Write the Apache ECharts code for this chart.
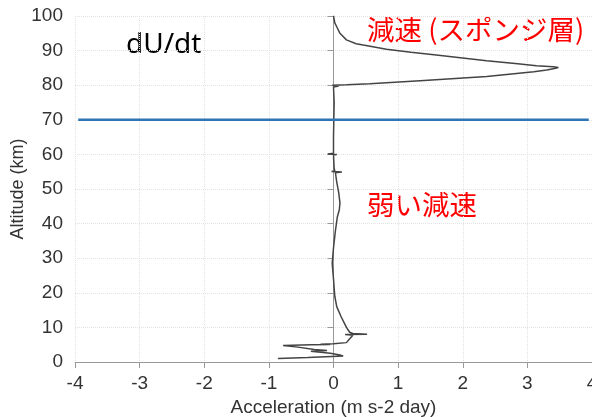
<!DOCTYPE html>
<html>
<head>
<meta charset="utf-8">
<script src="https://cdn.jsdelivr.net/npm/echarts@6/dist/echarts.min.js"></script>
<style>
html,body{margin:0;padding:0;background:#fff;}
#chart{width:592px;height:417px;}
</style>
</head>
<body>
<div id="chart"></div>
<script>
// Altitude (km) and acceleration dU/dt (m s-2 day)
var altitudes = [100, 98, 96.9, 95, 93.1, 92, 91.6, 90.4, 89.5, 88.7, 87.1, 86.2, 85.6, 85.3, 85.1, 84.8, 84.4, 83.9, 82.5, 81.3, 80.4, 80.1, 80.0, 79.8, 79.5, 79, 75, 70, 65, 61, 60.3, 60.15, 60.0, 59.8, 56, 55.2, 55.05, 54.9, 54.7, 52, 49, 46, 44, 42, 38, 33, 28.5, 24, 19, 16, 13, 10, 8.6, 8.25, 8.05, 7.95, 7.75, 7.2, 6.5, 5.6, 5.3, 5.15, 5.05, 4.95, 4.8, 4.3, 3.6, 3.3, 3.1, 2.8, 2.5, 2.0, 1.7, 1.3, 1.0];
var accel = [0.0, 0.02, 0.05, 0.1, 0.2, 0.35, 0.46, 0.82, 1.2, 1.59, 2.37, 2.85, 3.14, 3.40, 3.48, 3.42, 3.3, 3.1, 2.37, 1.34, 0.56, 0.2, -0.02, 0.08, 0.0, 0.02, 0.01, 0.005, 0.0, 0.0, 0.0, -0.09, 0.05, 0.0, 0.01, 0.02, -0.03, 0.13, 0.03, 0.05, 0.08, 0.1, 0.09, 0.06, 0.03, 0.0, -0.02, 0.0, 0.02, 0.05, 0.12, 0.2, 0.25, 0.3, 0.52, 0.18, 0.3, 0.27, 0.24, 0.2, 0.0, -0.2, -0.05, -0.35, -0.78, -0.55, -0.3, -0.1, -0.35, -0.2, -0.05, 0.1, 0.15, -0.4, -0.86];
var refAltitude = 70;
var refSpan = [-3.95, 3.95];
var xTicks = [-4, -3, -2, -1, 0, 1, 2, 3, 4];
var yTicks = [0, 10, 20, 30, 40, 50, 60, 70, 80, 90, 100];
var xTitle = 'Acceleration (m s-2 day)';
var yTitle = 'Altitude (km)';
var labelMain = 'dU/dt';
var labelSponge = '減速 (スポンジ層)';
var labelWeak = '弱い減速';

var profile = altitudes.map(function (a, i) { return [accel[i], a]; });
var refLine = refSpan.map(function (x) { return [x, refAltitude]; });

var chart = echarts.init(document.getElementById('chart'), null, {renderer: 'canvas'});
var font = '"Liberation Sans", Arial, sans-serif';
chart.setOption({
  animation: false,
  backgroundColor: '#ffffff',
  grid: {left: 75, right: 0, top: 16, bottom: 55, containLabel: false, outerBoundsMode: 'none'},
  xAxis: {
    type: 'value', min: xTicks[0], max: xTicks[xTicks.length - 1], interval: 1,
    name: xTitle, nameLocation: 'middle', nameGap: 36, nameMoveOverlap: false,
    nameTextStyle: {fontFamily: font, fontSize: 19, color: '#333'},
    axisLine: {show: true, lineStyle: {color: '#999', width: 1}},
    axisTick: {show: true, length: 6, lineStyle: {color: '#999'}},
    axisLabel: {fontFamily: font, fontSize: 19, color: '#333', margin: 12, showMaxLabel: true, showMinLabel: true},
    splitLine: {show: true, lineStyle: {color: '#e2e2e2', type: 'dotted', width: 1}}
  },
  yAxis: {
    type: 'value', min: yTicks[0], max: yTicks[yTicks.length - 1], interval: 10,
    name: yTitle, nameLocation: 'middle', nameGap: 48, nameRotate: 90, nameMoveOverlap: false,
    nameTextStyle: {fontFamily: font, fontSize: 18, color: '#333'},
    axisLine: {show: true, lineStyle: {color: '#999', width: 1}},
    axisTick: {show: true, length: 6, lineStyle: {color: '#999'}},
    axisLabel: {fontFamily: font, fontSize: 19, color: '#333', margin: 12},
    splitLine: {show: true, lineStyle: {color: '#e2e2e2', type: 'dotted', width: 1}}
  },
  series: [
    {
      type: 'line', data: profile, showSymbol: false, smooth: false,
      lineStyle: {color: '#444', width: 1.5}, z: 3
    },
    {
      type: 'line', data: refLine, showSymbol: false,
      lineStyle: {color: '#2e75b6', width: 2.5}, z: 4
    }
  ],
  graphic: [
    {type: 'text', left: 126, top: 31, style: {text: labelMain, font: '28px "Noto Sans", sans-serif', fill: '#000'}},
    {type: 'text', left: 367, top: 16, style: {text: labelSponge, font: '27.5px "Noto Sans CJK JP", sans-serif', fill: '#ff0000'}},
    {type: 'text', left: 367, top: 191, style: {text: labelWeak, font: '27.5px "Noto Sans CJK JP", sans-serif', fill: '#ff0000'}}
  ]
});
</script>
</body>
</html>
